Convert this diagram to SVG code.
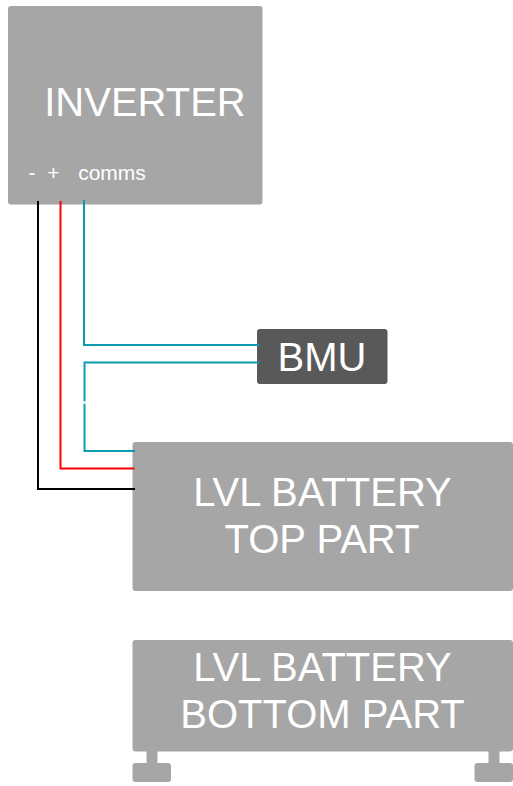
<svg xmlns="http://www.w3.org/2000/svg" width="513" height="786" viewBox="0 0 513 786">
<style>
.box{fill:#a6a6a6}
.t{fill:#fff;font-family:"Liberation Sans",Arial,sans-serif;text-anchor:middle}
.big{font-size:40px}
.small{font-size:21px}
.w{fill:none;stroke-width:2}
.teal{stroke:#0c9cb0}
</style>
<g id="inverter">
<rect class="box" x="8" y="6" width="254.500" height="198.500" rx="3"/>
<text class="t big" x="145" y="116">INVERTER</text>
<text class="t small" x="32" y="180">-</text>
<text class="t small" x="53.500" y="180">+</text>
<text class="t small" x="112" y="180">comms</text>
</g>
<g id="bmu">
<rect x="257" y="329" width="130.500" height="55" rx="3" fill="#595959"/>
<text class="t big" x="322" y="371">BMU</text>
</g>
<g id="battery-top">
<rect class="box" x="132.500" y="442" width="380.500" height="149" rx="3"/>
<text class="t big" x="322.500" y="506">LVL BATTERY</text>
<text class="t big" x="322" y="553">TOP PART</text>
</g>
<g id="battery-bottom">
<rect class="box" x="132.500" y="640" width="380.500" height="111.500" rx="3"/>
<rect class="box" x="146.500" y="750" width="11" height="15"/>
<rect class="box" x="488.500" y="750" width="11" height="15"/>
<rect class="box" x="132.500" y="763" width="38.500" height="19" rx="3"/>
<rect class="box" x="474.500" y="763" width="38.500" height="19" rx="3"/>
<text class="t big" x="322.500" y="681">LVL BATTERY</text>
<text class="t big" x="322.500" y="728">BOTTOM PART</text>
</g>
<g id="connectors">
<path class="w" stroke="#000" d="M38 201V489H135"/>
<path class="w" stroke="#f00" d="M60.500 201V468.500H134.500"/>
<path class="w teal" d="M84 200V345H259"/>
<path class="w teal" d="M259 362.500H84.500V451H135"/>
<path d="M83 401h3v3h-3z" fill="#fff" opacity=".8"/>
</g>
</svg>
